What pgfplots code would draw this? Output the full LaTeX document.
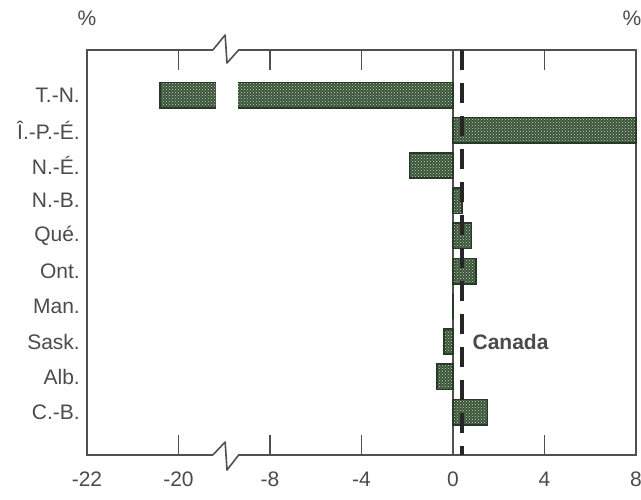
\documentclass[border=0pt]{standalone}
\usepackage{pgfplots}
\pgfplotsset{compat=1.18}
\usepackage{fontspec}
\setmainfont{Liberation Sans}
\usetikzlibrary{patterns}
\definecolor{bargreen}{RGB}{58,84,56}
\definecolor{bardark}{RGB}{38,58,38}
\definecolor{dotcol}{RGB}{205,212,200}
\definecolor{axgray}{RGB}{80,80,80}
\definecolor{txt}{RGB}{75,75,75}
\begin{document}
\fontsize{21}{25}\selectfont
\begin{tikzpicture}
\begin{axis}[
  name=ax,
  scale only axis,
  width=549pt, height=405pt,
  xmin=-16, xmax=8,
  ymin=-1.22, ymax=10.28,
  xbar, bar width=0.72,
  % left of the break the scale is doubled: real x -> 2x+28
  x filter/.expression={x<-12 ? 2*x+28 : x},
  clip=false,
  axis line style={draw=axgray, line width=1.6pt},
  xtick={-16,-12,-8,-4,0,4,8},
  xticklabels={-22,-20,-8,-4,0,4,8},
  x tick style={draw=axgray, line width=1.6pt},
  major tick length=20pt,
  xtick pos=both,
  ytick={0,...,9},
  yticklabels={C.-B.,Alb.,Sask.,Man.,Ont.,Qué.,N.-B.,N.-É.,Î.-P.-É.,T.-N.},
  y tick style={draw=none},
  tick label style={text=txt},
  yticklabel style={anchor=east, xshift=20pt},
  xticklabel style={yshift=-10pt},
]
% zero line
\addplot[sharp plot, draw=axgray, line width=1.4pt] coordinates {(0,-1.22) (0,10.28)};
% provincial values (%)
\addplot[draw=bardark, line width=1.6pt, fill=bargreen,
  postaction={pattern=crosshatch dots, pattern color=dotcol}]
  coordinates {(-20.4,9) (8,8) (-1.9,7) (0.4,6) (0.8,5) (1.0,4) (0,3) (-0.4,2) (-0.7,1) (1.5,0)};
% Canada reference line
\addplot[sharp plot, draw=black!85, line width=3.6pt, dash pattern=on 20pt off 13pt]
  coordinates {(0.4,10.28) (0.4,-1.22)};
\node[anchor=west, font=\bfseries, text=txt, inner sep=0pt] at (axis cs:0.85,2) {Canada};
% axis break
\fill[white] (axis cs:-10.35,8.55) rectangle (axis cs:-9.39,9.45);
\fill[white] ([yshift=-3pt]axis cs:-10.48,10.28) rectangle ([yshift=3pt]axis cs:-9.39,10.28);
\fill[white] ([yshift=-3pt]axis cs:-10.48,-1.22) rectangle ([yshift=3pt]axis cs:-9.39,-1.22);
\draw[draw=axgray, line width=1.6pt, line join=round]
  (axis cs:-10.5,10.28) -- ([yshift=15pt]axis cs:-9.96,10.28) -- ([yshift=-13pt]axis cs:-9.88,10.28) -- (axis cs:-9.37,10.28);
\draw[draw=axgray, line width=1.6pt, line join=round]
  (axis cs:-10.5,-1.22) -- ([yshift=13pt]axis cs:-9.96,-1.22) -- ([yshift=-15pt]axis cs:-9.88,-1.22) -- (axis cs:-9.37,-1.22);
\end{axis}
\node[text=txt, anchor=center] at ([yshift=32pt]ax.north west) {\%};
\node[text=txt, anchor=center] at ([xshift=-4pt,yshift=32pt]ax.north east) {\%};
\pgfresetboundingbox
\path ([shift={(-87pt,-44pt)}]ax.south west) rectangle ([shift={(5pt,50pt)}]ax.north east);
\end{tikzpicture}
\end{document}
